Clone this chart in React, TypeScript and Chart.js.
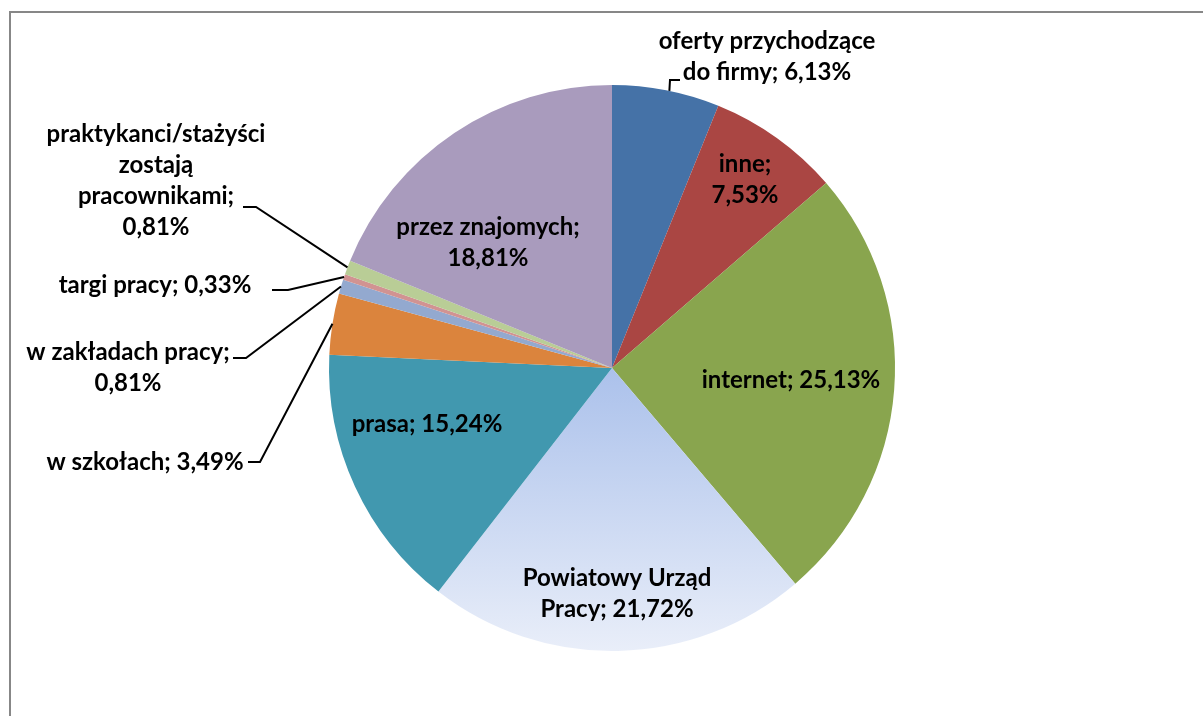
import React, { useEffect, useRef } from "react";
import { Chart, registerables } from "chart.js";

Chart.register(...registerables);

const categories = [
  "oferty przychodzące do firmy",
  "inne",
  "internet",
  "Powiatowy Urząd Pracy",
  "prasa",
  "w szkołach",
  "w zakładach pracy",
  "targi pracy",
  "praktykanci/stażyści zostają pracownikami",
  "przez znajomych",
];

const values = [6.13, 7.53, 25.13, 21.72, 15.24, 3.49, 0.81, 0.33, 0.81, 18.81];

const colors = [
  "#4572A7",
  "#AA4643",
  "#89A54E",
  "GRADIENT",
  "#4198AF",
  "#DB843D",
  "#93A9CF",
  "#D19392",
  "#B9CD96",
  "#A99BBD",
];

// words per line for each label
const wraps = [[2, 3], [1, 1], [2], [2, 2], [2], [3], [3, 1], [3], [1, 1, 1, 1], [2, 1]];

// label block centre, relative to pie centre (px)
const labelOffsets = [
  [155, -311],
  [133, -188],
  [179, 12],
  [5, 226],
  [-185, 56],
  [-467, 94],
  [-484, 0],
  [-457, -83],
  [-456, -187],
  [-124, -125],
];

// leader lines: start fraction within slice, then bend points relative to centre
const leaders: ({ t: number; pts: number[][] } | null)[] = [
  { t: 0.53, pts: [[58, -288], [68, -288]] },
  null,
  null,
  null,
  null,
  { t: 0.5, pts: [[-352, 94], [-364, 94]] },
  { t: 0.5, pts: [[-366, -10], [-379, -10]] },
  { t: 0.5, pts: [[-324, -78], [-340, -78]] },
  { t: 0.5, pts: [[-356, -161], [-369, -161]] },
  null,
];

const FONT = "bold 24px Lato";
const LINE_H = 31;

function fmt(v: number) {
  return v.toFixed(2).replace(".", ",") + "%";
}

function buildLines(i: number): string[] {
  const words = (categories[i] + "; " + fmt(values[i])).split(" ");
  const out: string[] = [];
  let k = 0;
  for (const n of wraps[i]) {
    out.push(words.slice(k, k + n).join(" "));
    k += n;
  }
  return out;
}

const labelPlugin = {
  id: "pieLabels",
  beforeDraw(chart: any) {
    const ctx = chart.ctx;
    ctx.save();
    ctx.fillStyle = "#ffffff";
    ctx.fillRect(0, 0, chart.width, chart.height);
    ctx.strokeStyle = "#878787";
    ctx.lineWidth = 2;
    ctx.strokeRect(10, 12, chart.width + 20, chart.height + 20);
    ctx.restore();
  },
  afterDatasetsDraw(chart: any) {
    const ctx = chart.ctx;
    const meta = chart.getDatasetMeta(0);
    ctx.save();
    meta.data.forEach((arc: any, i: number) => {
      const cx = arc.x;
      const cy = arc.y;
      const R = arc.outerRadius;
      const ld = leaders[i];
      if (ld) {
        const a = arc.startAngle + (arc.endAngle - arc.startAngle) * ld.t;
        ctx.beginPath();
        ctx.moveTo(cx + R * Math.cos(a), cy + R * Math.sin(a));
        ld.pts.forEach((p) => ctx.lineTo(cx + p[0], cy + p[1]));
        ctx.strokeStyle = "#000000";
        ctx.lineWidth = 2;
        ctx.stroke();
      }
      const lines = buildLines(i);
      const [ox, oy] = labelOffsets[i];
      ctx.font = FONT;
      ctx.fillStyle = "#000000";
      ctx.textAlign = "center";
      ctx.textBaseline = "middle";
      const y0 = cy + oy - ((lines.length - 1) * LINE_H) / 2;
      lines.forEach((ln, j) => ctx.fillText(ln, cx + ox, y0 + j * LINE_H));
    });
    ctx.restore();
  },
};

export default function App() {
  const ref = useRef<HTMLCanvasElement | null>(null);
  useEffect(() => {
    if (!ref.current) return;
    const chart = new Chart(ref.current, {
      type: "pie",
      data: {
        labels: categories,
        datasets: [
          {
            data: values,
            borderWidth: 0,
            backgroundColor: (c: any) => {
              const col = colors[c.dataIndex];
              if (col !== "GRADIENT") return col;
              const area = c.chart.chartArea;
              if (!area) return "#C5D4EF";
              const cy = (area.top + area.bottom) / 2;
              const g = c.chart.ctx.createLinearGradient(0, cy, 0, area.bottom);
              g.addColorStop(0, "#ABC1EB");
              g.addColorStop(1, "#E9EEF9");
              return g;
            },
          },
        ],
      },
      options: {
        responsive: false,
        animation: false,
        layout: { padding: { left: 329, right: 308, top: 85, bottom: 65 } },
        plugins: {
          legend: { display: false },
          tooltip: { enabled: false },
        },
      },
      plugins: [labelPlugin],
    });
    return () => chart.destroy();
  }, []);
  return (
    <div style={{ position: "fixed", left: 0, top: 0, width: 1203, height: 716 }}>
      <canvas ref={ref} width={1203} height={716} />
    </div>
  );
}
